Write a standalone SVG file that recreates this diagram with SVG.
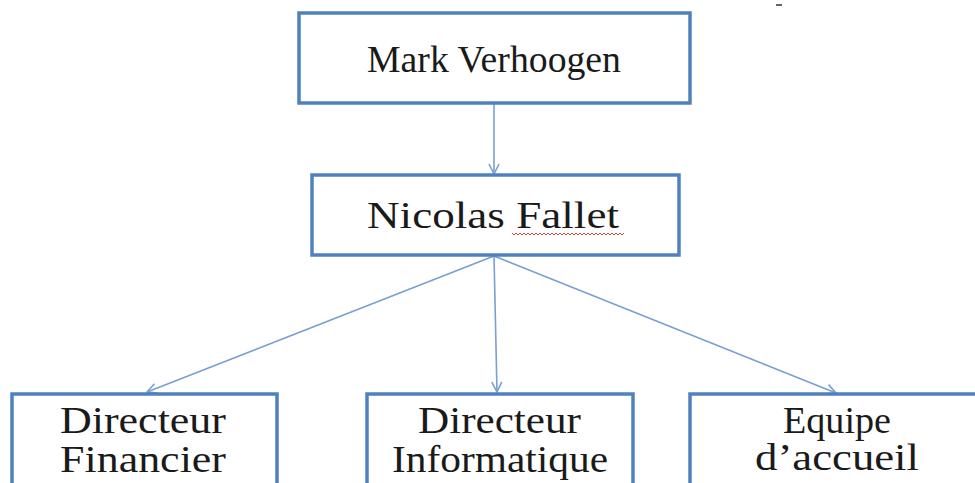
<svg xmlns="http://www.w3.org/2000/svg" width="975" height="483" viewBox="0 0 975 483">
<defs>
<style>
.box{fill:#ffffff;stroke:#4f81bd;stroke-width:3.5}
.lbl{font-family:"Liberation Serif","Times New Roman",serif;font-size:37px;fill:#1a1a1a}
.conn{stroke:#7a9fd0;stroke-width:1.6;fill:none}
</style>
<marker id="arr" viewBox="0 0 12 12" refX="11" refY="6" markerWidth="12" markerHeight="12" markerUnits="userSpaceOnUse" orient="auto">
<path d="M1,1 L11,6 L1,11" fill="none" stroke="#7a9fd0" stroke-width="1.6"/>
</marker>
</defs>
<rect width="975" height="483" fill="#ffffff"/>
<rect x="776" y="4" width="6" height="2" fill="#666"/>
<g id="connectors">
<line class="conn" x1="494" y1="104" x2="494" y2="174" marker-end="url(#arr)"/>
<line class="conn" x1="494" y1="256" x2="147" y2="392" marker-end="url(#arr)"/>
<line class="conn" x1="494" y1="256" x2="497" y2="392" marker-end="url(#arr)"/>
<line class="conn" x1="494" y1="256" x2="836" y2="393" marker-end="url(#arr)"/>
</g>
<g id="mark">
<rect class="box" x="299" y="13" width="391" height="90"/>
<text class="lbl" x="367" y="72" textLength="254" lengthAdjust="spacingAndGlyphs">Mark Verhoogen</text>
</g>
<g id="nicolas">
<rect class="box" x="312" y="175" width="367" height="80"/>
<text class="lbl" x="367" y="228" textLength="252" lengthAdjust="spacingAndGlyphs">Nicolas Fallet</text>
<path d="M512,233 l2,2 l2,-2 l2,2 l2,-2 l2,2 l2,-2 l2,2 l2,-2 l2,2 l2,-2 l2,2 l2,-2 l2,2 l2,-2 l2,2 l2,-2 l2,2 l2,-2 l2,2 l2,-2 l2,2 l2,-2 l2,2 l2,-2 l2,2 l2,-2 l2,2 l2,-2 l2,2 l2,-2 l2,2 l2,-2 l2,2 l2,-2 l2,2 l2,-2 l2,2 l2,-2 l2,2 l2,-2 l2,2 l2,-2 l2,2 l2,-2 l2,2 l2,-2 l2,2 l2,-2 l2,2 l2,-2 l2,2 l2,-2 l2,2 l2,-2 l2,2 l2,-2" fill="none" stroke="#e03030" stroke-width="0.9"/>
</g>
<g id="financier">
<rect class="box" x="12" y="394" width="265" height="110"/>
<text class="lbl" x="60" y="433" textLength="166" lengthAdjust="spacingAndGlyphs">Directeur</text>
<text class="lbl" x="60" y="472" textLength="166" lengthAdjust="spacingAndGlyphs">Financier</text>
</g>
<g id="informatique">
<rect class="box" x="367" y="394" width="266" height="110"/>
<text class="lbl" x="418" y="433" textLength="163" lengthAdjust="spacingAndGlyphs">Directeur</text>
<text class="lbl" x="392" y="472" textLength="216" lengthAdjust="spacingAndGlyphs">Informatique</text>
</g>
<g id="accueil">
<rect class="box" x="690" y="394" width="300" height="110"/>
<text class="lbl" x="783" y="433" textLength="108" lengthAdjust="spacingAndGlyphs">Equipe</text>
<text class="lbl" x="755" y="470" textLength="164" lengthAdjust="spacingAndGlyphs">d’accueil</text>
</g>
</svg>
